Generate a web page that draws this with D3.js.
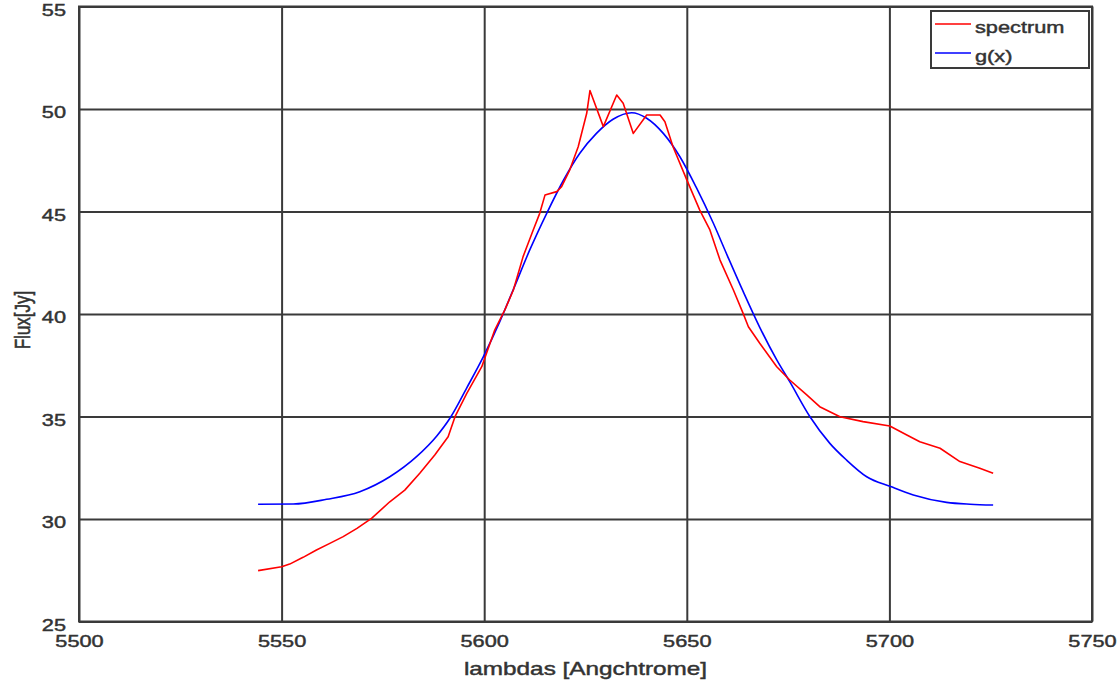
<!DOCTYPE html>
<html>
<head>
<meta charset="utf-8">
<script src="https://cdn.jsdelivr.net/npm/d3@7"></script>
<style>
  html, body { margin: 0; padding: 0; background: #fff; }
  svg { display: block; }
  text { font-family: "Liberation Sans", Arial, sans-serif; fill: #333; }
</style>
</head>
<body>
<svg id="chart" width="1120" height="682"></svg>
<script>
// Measured spectrum (wavelength in Angstrom, flux in Jy)
const specLambda = [5544.2, 5550, 5552, 5555.3, 5558.6, 5561.9, 5565.2, 5568.6, 5572.2, 5576.7,
  5580.4, 5584.1, 5587.8, 5591.1, 5592.8, 5595.7, 5599.4, 5602.6, 5605.1, 5607.2,
  5609.6, 5612.1, 5613.7, 5615, 5617.9, 5619.1, 5621.1, 5623.2, 5625.3, 5626.1,
  5629.4, 5632.7, 5634.3, 5636.8, 5640.1, 5643.4, 5644.6, 5646.6, 5650, 5653.2,
  5655.7, 5658.2, 5661.5, 5663.9, 5665.2, 5668, 5672.2, 5675.4, 5679.6, 5682.8,
  5687.8, 5693.5, 5700.1, 5704.3, 5707.5, 5712.5, 5717.4, 5722.3, 5725.6];
const specFlux = [27.48, 27.67, 27.8, 28.13, 28.49, 28.81, 29.14, 29.54, 30.03, 30.84,
  31.41, 32.23, 33.12, 34.01, 34.99, 36.13, 37.43, 39.22, 40.2, 41.17,
  42.8, 44.1, 44.91, 45.8, 45.97, 46.21, 47.02, 48.16, 49.79, 50.9,
  49.14, 50.68, 50.28, 48.81, 49.71, 49.71, 49.38, 48.16, 46.54, 45.07,
  44.1, 42.63, 41.17, 40.03, 39.38, 38.57, 37.43, 36.78, 36.05, 35.48,
  34.99, 34.75, 34.54, 34.1, 33.77, 33.45, 32.8, 32.47, 32.23];

// Fitted profile g(x)
const gLambda = [5544.2, 5552.9, 5561.1, 5569.3, 5576.7, 5583.3, 5588.3, 5591.5, 5595.7, 5599.8,
  5603.9, 5607.2, 5611.3, 5615.4, 5619.5, 5623.6, 5627.7, 5631.8, 5636.4, 5640.1,
  5644.2, 5648.3, 5652.4, 5656.5, 5660, 5663.9, 5668, 5672.2, 5675.4, 5680.4,
  5685.3, 5689.4, 5694.4, 5700.3, 5705.9, 5714.1, 5719.9, 5725.6];
const gFlux = [30.72, 30.73, 30.96, 31.33, 32.06, 33.04, 34.05, 34.9, 36.4, 37.92,
  39.65, 41.2, 43.15, 44.9, 46.5, 47.84, 48.81, 49.5, 49.82, 49.55,
  48.81, 47.67, 46.15, 44.45, 42.85, 41.1, 39.35, 37.76, 36.7, 34.99,
  33.69, 32.88, 32.06, 31.58, 31.17, 30.81, 30.72, 30.68];

const xTicks = [5500, 5550, 5600, 5650, 5700, 5750];
const yTicks = [25, 30, 35, 40, 45, 50, 55];

const seriesNames = ["spectrum", "g(x)"];
const seriesColors = ["#ff0000", "#0000ff"];

const plotLeft = 79, plotRight = 1092, plotTop = 6.5, plotBottom = 621.5;
const stretch = 1.28;   // wide glyph rendering used for all labels
const gridColor = "#3a3a3a";
const textWeight = 0.45; // outline that thickens the label glyphs

const svg = d3.select("#chart");

const x = d3.scaleLinear().domain([5500, 5750]).range([plotLeft, plotRight]);
const y = d3.scaleLinear().domain([25, 55]).range([plotBottom, plotTop]);

// X axis with full-height grid lines
const gx = svg.append("g")
  .attr("transform", `translate(0,${plotBottom})`)
  .call(d3.axisBottom(x).tickValues(xTicks).tickSize(-(plotBottom - plotTop)).tickFormat(d3.format("d")));
gx.select(".domain").remove();
gx.selectAll(".tick line").attr("stroke", gridColor).attr("stroke-width", 2);
gx.selectAll(".tick text")
  .attr("y", 25.5).attr("dy", 0)
  .attr("transform", `scale(${stretch},1)`)
  .style("font-size", "17px").attr("fill", "#333")
  .attr("stroke", "#333").attr("stroke-width", textWeight);

// Y axis with full-width grid lines
const gy = svg.append("g")
  .attr("transform", `translate(${plotLeft},0)`)
  .call(d3.axisLeft(y).tickValues(yTicks).tickSize(-(plotRight - plotLeft)).tickFormat(d3.format("d")));
gy.select(".domain").remove();
gy.selectAll(".tick line").attr("stroke", gridColor).attr("stroke-width", 2);
gy.selectAll(".tick text")
  .attr("x", -13 / stretch).attr("dy", "0.5em")
  .attr("transform", `scale(${stretch},1)`)
  .style("font-size", "17px").attr("fill", "#333")
  .attr("stroke", "#333").attr("stroke-width", textWeight);

// Plot frame
svg.append("rect")
  .attr("x", plotLeft).attr("y", plotTop)
  .attr("width", plotRight - plotLeft).attr("height", plotBottom - plotTop)
  .attr("fill", "none").attr("stroke", gridColor).attr("stroke-width", 2);

// Curves
svg.append("clipPath").attr("id", "plot-clip")
  .append("rect").attr("x", plotLeft).attr("y", plotTop)
  .attr("width", plotRight - plotLeft).attr("height", plotBottom - plotTop);

const specLine = d3.line().x((d, i) => x(specLambda[i])).y(d => y(d));
const gLine = d3.line().x((d, i) => x(gLambda[i])).y(d => y(d)).curve(d3.curveMonotoneX);

svg.append("path").datum(gFlux)
  .attr("d", gLine).attr("fill", "none")
  .attr("stroke", seriesColors[1]).attr("stroke-width", 1.6)
  .attr("clip-path", "url(#plot-clip)");

svg.append("path").datum(specFlux)
  .attr("d", specLine).attr("fill", "none")
  .attr("stroke", seriesColors[0]).attr("stroke-width", 1.6)
  .attr("stroke-linejoin", "round")
  .attr("clip-path", "url(#plot-clip)");

// Axis titles
svg.append("text")
  .attr("transform", `translate(${(plotLeft + plotRight) / 2},675) scale(${stretch},1)`)
  .attr("text-anchor", "middle")
  .style("font-size", "19px")
  .attr("stroke", "#333").attr("stroke-width", textWeight)
  .text("lambdas [Angchtrome]");

svg.append("text")
  .attr("transform", `translate(30,320) scale(${stretch},1) rotate(-90)`)
  .attr("text-anchor", "middle")
  .style("font-size", "17px")
  .attr("stroke", "#333").attr("stroke-width", textWeight)
  .text("Flux[Jy]");

// Legend
const legend = svg.append("g");
legend.append("rect")
  .attr("x", 931).attr("y", 11).attr("width", 158).attr("height", 57)
  .attr("fill", "#fff").attr("stroke", gridColor).attr("stroke-width", 2);
seriesNames.forEach((name, i) => {
  const ly = 24 + i * 29;
  legend.append("line")
    .attr("x1", 935).attr("x2", 971).attr("y1", ly).attr("y2", ly)
    .attr("stroke", seriesColors[i]).attr("stroke-width", 1.6);
  legend.append("text")
    .attr("transform", `translate(975,${ly + 9}) scale(${stretch},1)`)
    .style("font-size", "17px")
    .attr("stroke", "#333").attr("stroke-width", textWeight)
    .text(name);
});
</script>
</body>
</html>
